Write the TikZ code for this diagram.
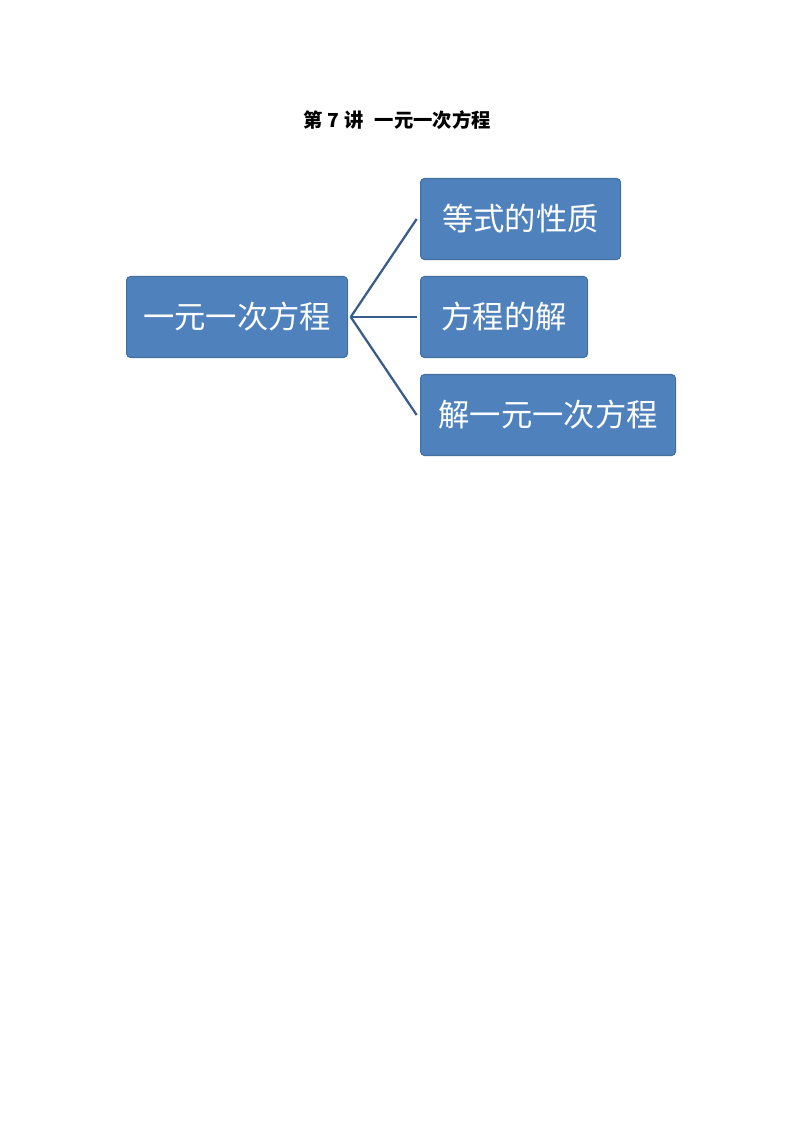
\documentclass[tikz,border=0pt]{standalone}
\usepackage{fontspec}
\newfontfamily\cjk{Noto Sans CJK SC}
\usepackage{tikz}
\usetikzlibrary{positioning}
\definecolor{boxfill}{HTML}{4F81BD}
\definecolor{boxline}{HTML}{41719C}
\definecolor{linkline}{HTML}{385D8A}

\begin{document}
\begin{tikzpicture}[x=0.75pt, y=-0.75pt,
  topic/.style={draw=boxline, fill=boxfill, line width=0.8pt, rounded corners=3pt,
    text=white, font=\cjk\fontsize{23.5}{28}\selectfont, minimum height=60.75pt,
    inner xsep=8pt, anchor=west},
  link/.style={draw=linkline, line width=1.7pt}]
\useasboundingbox (0,0) rectangle (794,1123);
\node [font=\cjk\bfseries\fontsize{14.5}{17}\selectfont] (title) at (397,120) {第\hspace{4pt}7\hspace{4pt}讲\hspace{8pt}一元一次方程};
\node [topic, minimum width=165.75pt] (main) at (126,317) {一元一次方程};
\node [topic, minimum width=150pt] (prop) at (420,219) {等式的性质};
\node [topic, minimum width=125.25pt] (sol) at (420,317) {方程的解};
\node [topic, minimum width=191.25pt] (solve) at (420,415) {解一元一次方程};
\begin{scope}
\draw [link] ([xshift=2pt]main.east) -- ([xshift=-2.5pt]prop.west);
\draw [link] ([xshift=2pt]main.east) -- ([xshift=-2.5pt]sol.west);
\draw [link] ([xshift=2pt]main.east) -- ([xshift=-2.5pt]solve.west);
\end{scope}
\end{tikzpicture}
\end{document}
